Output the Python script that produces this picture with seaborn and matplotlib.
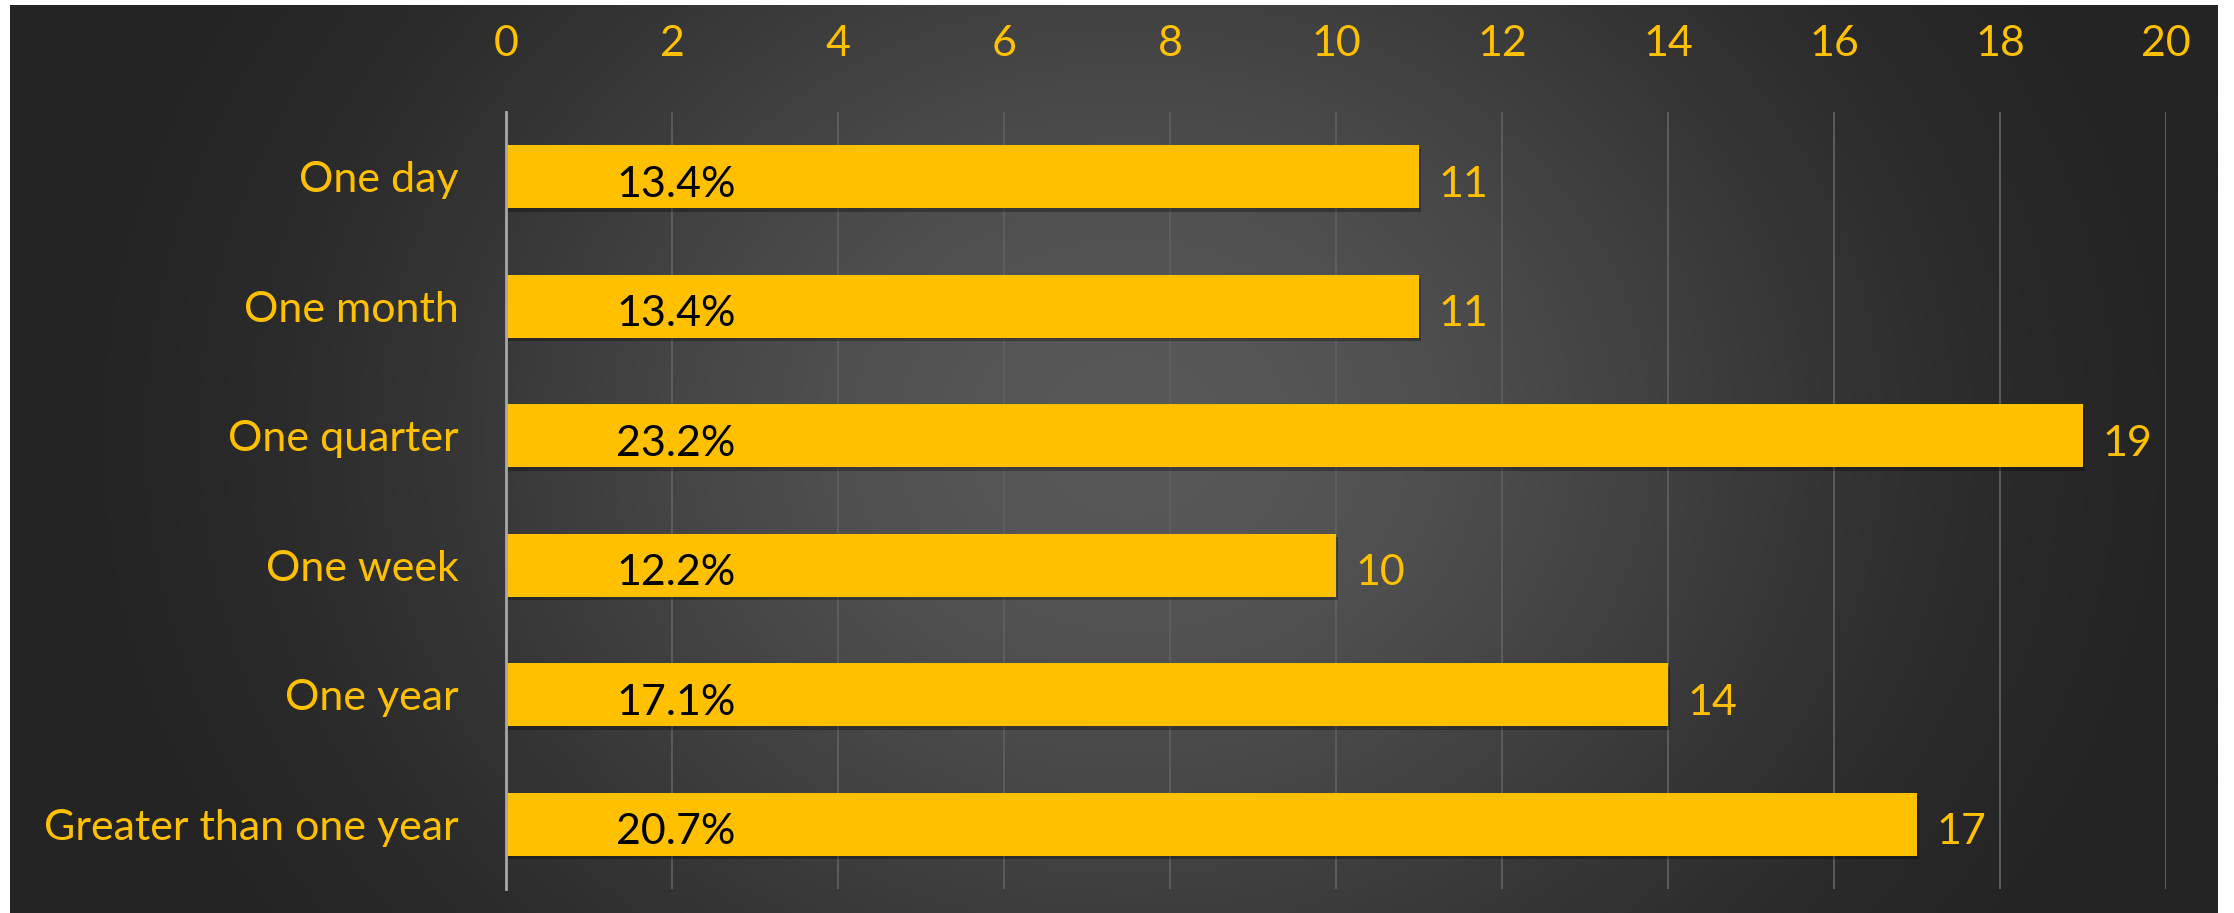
import numpy as np
import pandas as pd
import matplotlib.pyplot as plt
import matplotlib.patheffects as pe
import seaborn as sns

# Data
categories = ["One day", "One month", "One quarter", "One week", "One year", "Greater than one year"]
counts = [11, 11, 19, 10, 14, 17]
shares = ["13.4%", "13.4%", "23.2%", "12.2%", "17.1%", "20.7%"]
x_ticks = [0, 2, 4, 6, 8, 10, 12, 14, 16, 18, 20]

YELLOW = "#FFC000"
FONT = ["Lato", "DejaVu Sans"]

df = pd.DataFrame({"category": categories, "count": counts})

sns.set_theme(style="white")
plt.rcParams["font.family"] = FONT

fig = plt.figure(figsize=(22.34, 9.13), dpi=100, facecolor="white")

# Dark radial-gradient backdrop (white frame left/top/right like the reference)
bg = fig.add_axes([10 / 2234, 0, 2208 / 2234, 908 / 913])
bg.set_axis_off()
h, w = 454, 1104
yy, xx = np.mgrid[0:h, 0:w]
r = np.sqrt(((xx - 560) / 560) ** 2 + ((yy - 215) / 470) ** 2)
t = np.clip(1 - r, 0, 1)
t = t * t * (3 - 2 * t)
shade = (0x24 + (0x58 - 0x24) * t) / 255
bg.imshow(np.dstack([shade, shade, shade]), aspect="auto", extent=[0, 1, 0, 1])

ax = fig.add_axes([506 / 2234, (913 - 889) / 913, (2166 - 506) / 2234, (889 - 112) / 913])
ax.patch.set_alpha(0)

sns.barplot(data=df, x="count", y="category", orient="h", color=YELLOW,
            width=0.485, saturation=1, ax=ax, zorder=3)

for bar in ax.patches:
    bar.set_edgecolor("none")
    bar.set_path_effects([pe.SimplePatchShadow(offset=(1.5, -2.5), shadow_rgbFace="black", alpha=0.3),
                          pe.Normal()])

for i, (c, s) in enumerate(zip(counts, shares)):
    ax.text(c + 0.24, i + 0.06, str(c), ha="left", va="center", color=YELLOW, fontsize=31, zorder=5)
    ax.text(2.05, i + 0.06, s, ha="center", va="center", color="black", fontsize=31, zorder=5)

ax.set_xlim(0, 20)
ax.set_ylim(5.5, -0.5)
ax.set_xticks(x_ticks)
ax.xaxis.tick_top()
ax.tick_params(axis="x", length=0, pad=35, labelsize=31, labelcolor=YELLOW)
ax.tick_params(axis="y", length=0, pad=34, labelsize=31, labelcolor=YELLOW)
ax.set_xlabel("")
ax.set_ylabel("")

ax.grid(axis="x", color="#5f5f5f", linewidth=1.3, zorder=0)
ax.set_axisbelow(True)
for side in ["top", "right", "bottom"]:
    ax.spines[side].set_visible(False)
ax.spines["left"].set_color("#a8a8a8")
ax.spines["left"].set_linewidth(2)
ax.spines["left"].set_zorder(4)

fig.savefig("out.png", dpi=100, facecolor="white")
